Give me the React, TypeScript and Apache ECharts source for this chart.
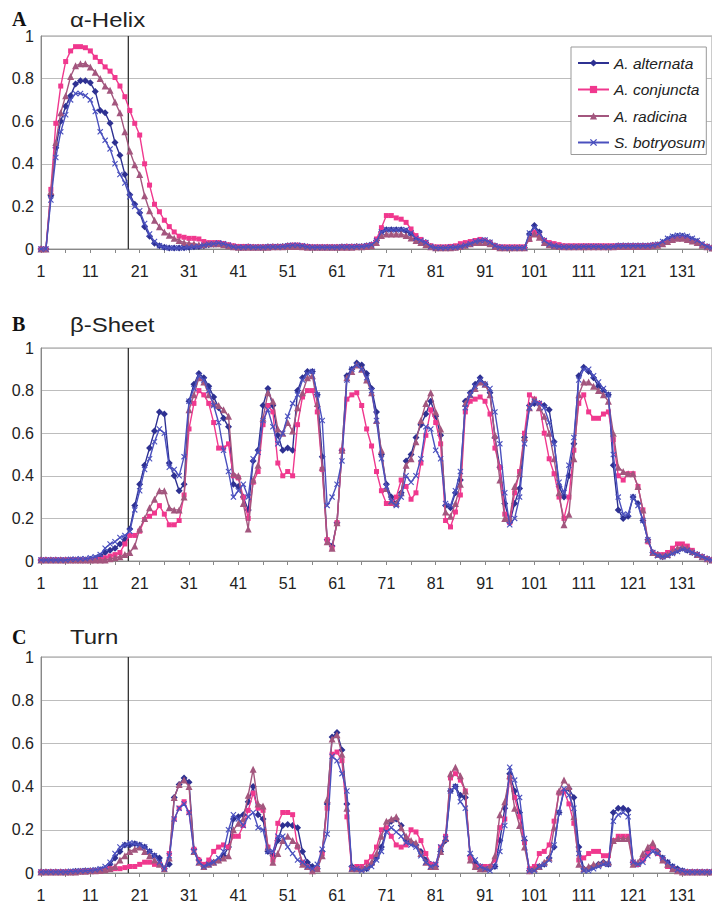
import React, { useEffect, useRef } from "react";
import * as echarts from "echarts";

// Residue positions (category axis)
const positions: string[] = Array.from({ length: 137 }, (_, i) => String(i + 1));

const seriesNames = ["A. alternata", "A. conjuncta", "A. radicina", "S. botryosum"];

// Boundary marker position (between residues 18 and 19)
const boundaryPosition = 18.7;

// ---------- Panel A: alpha-helix ----------
const helixAlt = [
  0, 0, 0.25, 0.475, 0.6, 0.67, 0.72, 0.775, 0.79, 0.79,
  0.78, 0.74, 0.65, 0.64, 0.59, 0.5, 0.44, 0.35, 0.255, 0.21,
  0.17, 0.105, 0.06, 0.027, 0.015, 0.008, 0.005, 0.005, 0.005, 0.006,
  0.008, 0.01, 0.012, 0.015, 0.02, 0.022, 0.025, 0.022, 0.015, 0.01,
  0.008, 0.008, 0.01, 0.008, 0.008, 0.008, 0.01, 0.01, 0.01, 0.012,
  0.015, 0.015, 0.015, 0.012, 0.01, 0.008, 0.008, 0.008, 0.008, 0.008,
  0.008, 0.01, 0.01, 0.01, 0.012, 0.012, 0.015, 0.02, 0.04, 0.08,
  0.09, 0.09, 0.09, 0.09, 0.085, 0.07, 0.047, 0.04, 0.03, 0.012,
  0.006, 0.006, 0.006, 0.008, 0.008, 0.012, 0.018, 0.025, 0.035, 0.04,
  0.04, 0.03, 0.015, 0.008, 0.006, 0.006, 0.006, 0.006, 0.006, 0.07,
  0.11, 0.08, 0.04, 0.025, 0.02, 0.015, 0.012, 0.01, 0.01, 0.01,
  0.012, 0.012, 0.012, 0.012, 0.01, 0.01, 0.012, 0.015, 0.015, 0.015,
  0.015, 0.015, 0.015, 0.015, 0.018, 0.02, 0.03, 0.045, 0.055, 0.06,
  0.06, 0.055, 0.045, 0.035, 0.02, 0.01, 0.005,
];
const helixCon = [
  0, 0, 0.28, 0.59, 0.765, 0.88, 0.93, 0.95, 0.95, 0.945,
  0.93, 0.9, 0.88, 0.855, 0.835, 0.805, 0.765, 0.715, 0.65, 0.59,
  0.535, 0.4, 0.3, 0.21, 0.175, 0.135, 0.105, 0.08, 0.06, 0.055,
  0.05, 0.05, 0.047, 0.035, 0.03, 0.03, 0.03, 0.025, 0.02, 0.015,
  0.012, 0.012, 0.012, 0.01, 0.01, 0.01, 0.01, 0.012, 0.012, 0.012,
  0.015, 0.018, 0.018, 0.015, 0.012, 0.01, 0.01, 0.01, 0.01, 0.01,
  0.01, 0.01, 0.012, 0.012, 0.012, 0.012, 0.015, 0.02, 0.047, 0.1,
  0.157, 0.157, 0.146, 0.14, 0.125, 0.094, 0.063, 0.045, 0.03, 0.015,
  0.01, 0.01, 0.01, 0.012, 0.015, 0.025, 0.03, 0.035, 0.04, 0.045,
  0.04, 0.03, 0.015, 0.01, 0.01, 0.01, 0.01, 0.01, 0.01, 0.045,
  0.08, 0.06, 0.04, 0.03, 0.025, 0.02, 0.015, 0.015, 0.015, 0.015,
  0.015, 0.015, 0.015, 0.015, 0.015, 0.015, 0.015, 0.015, 0.015, 0.015,
  0.015, 0.015, 0.015, 0.015, 0.018, 0.02, 0.025, 0.035, 0.045, 0.05,
  0.05, 0.045, 0.035, 0.03, 0.02, 0.012, 0.005,
];
const helixRad = [
  0, 0, 0.27, 0.5, 0.64, 0.72, 0.81, 0.86, 0.87, 0.87,
  0.855, 0.83, 0.8, 0.765, 0.745, 0.69, 0.64, 0.55, 0.46, 0.395,
  0.35, 0.25, 0.18, 0.135, 0.105, 0.08, 0.065, 0.05, 0.04, 0.03,
  0.027, 0.025, 0.02, 0.02, 0.025, 0.025, 0.025, 0.02, 0.015, 0.01,
  0.008, 0.008, 0.008, 0.008, 0.008, 0.008, 0.008, 0.01, 0.01, 0.01,
  0.012, 0.012, 0.012, 0.01, 0.008, 0.008, 0.008, 0.008, 0.008, 0.008,
  0.008, 0.008, 0.008, 0.008, 0.01, 0.01, 0.012, 0.015, 0.03, 0.063,
  0.07, 0.07, 0.07, 0.07, 0.063, 0.052, 0.04, 0.03, 0.02, 0.01,
  0.006, 0.006, 0.006, 0.006, 0.008, 0.012, 0.018, 0.025, 0.03, 0.03,
  0.03, 0.025, 0.012, 0.006, 0.006, 0.006, 0.006, 0.006, 0.006, 0.05,
  0.07, 0.055, 0.03, 0.02, 0.015, 0.012, 0.01, 0.01, 0.01, 0.01,
  0.01, 0.01, 0.01, 0.01, 0.01, 0.01, 0.01, 0.012, 0.012, 0.012,
  0.012, 0.012, 0.012, 0.012, 0.015, 0.018, 0.025, 0.035, 0.045, 0.05,
  0.05, 0.045, 0.038, 0.03, 0.018, 0.01, 0.005,
];
const helixBot = [
  0, 0, 0.23, 0.43, 0.55, 0.63, 0.7, 0.73, 0.73, 0.72,
  0.7, 0.645, 0.55, 0.51, 0.47, 0.4, 0.35, 0.31, 0.245, 0.2,
  0.18, 0.12, 0.07, 0.035, 0.015, 0.008, 0.005, 0.005, 0.005, 0.006,
  0.008, 0.01, 0.012, 0.018, 0.022, 0.025, 0.028, 0.025, 0.018, 0.01,
  0.008, 0.008, 0.01, 0.008, 0.008, 0.008, 0.01, 0.01, 0.01, 0.012,
  0.015, 0.018, 0.018, 0.015, 0.01, 0.008, 0.008, 0.008, 0.008, 0.008,
  0.008, 0.01, 0.01, 0.01, 0.012, 0.012, 0.015, 0.02, 0.04, 0.08,
  0.09, 0.09, 0.09, 0.09, 0.09, 0.075, 0.05, 0.04, 0.03, 0.012,
  0.006, 0.006, 0.006, 0.008, 0.008, 0.012, 0.018, 0.025, 0.035, 0.04,
  0.042, 0.032, 0.015, 0.008, 0.006, 0.006, 0.006, 0.006, 0.006, 0.075,
  0.1, 0.075, 0.04, 0.022, 0.015, 0.012, 0.01, 0.01, 0.01, 0.01,
  0.012, 0.012, 0.012, 0.012, 0.01, 0.01, 0.012, 0.015, 0.015, 0.015,
  0.015, 0.015, 0.015, 0.015, 0.018, 0.022, 0.035, 0.05, 0.06, 0.065,
  0.065, 0.06, 0.05, 0.04, 0.025, 0.012, 0.005,
];

// ---------- Panel B: beta-sheet ----------
const sheetAlt = [
  0.005, 0.005, 0.005, 0.005, 0.005, 0.005, 0.005, 0.005, 0.005, 0.005,
  0.008, 0.012, 0.023, 0.04, 0.05, 0.06, 0.08, 0.1, 0.15, 0.26,
  0.36, 0.45, 0.53, 0.61, 0.7, 0.69, 0.46, 0.4, 0.33, 0.36,
  0.75, 0.83, 0.88, 0.86, 0.82, 0.77, 0.72, 0.67, 0.63, 0.36,
  0.35, 0.3, 0.24, 0.47, 0.52, 0.73, 0.81, 0.73, 0.59, 0.52,
  0.53, 0.52, 0.8, 0.86, 0.89, 0.89, 0.78, 0.49, 0.1, 0.07,
  0.18, 0.52, 0.87, 0.9, 0.93, 0.92, 0.88, 0.81, 0.7, 0.5,
  0.36, 0.3, 0.27, 0.32, 0.47, 0.5, 0.58, 0.64, 0.69, 0.75,
  0.68, 0.59, 0.26, 0.25, 0.32, 0.38, 0.75, 0.79, 0.83, 0.86,
  0.83, 0.79, 0.58, 0.44, 0.27, 0.18, 0.27, 0.34, 0.58, 0.73,
  0.74, 0.74, 0.73, 0.71, 0.56, 0.35, 0.3, 0.4, 0.55, 0.87,
  0.91, 0.89, 0.86, 0.82, 0.8, 0.78, 0.45, 0.24, 0.2, 0.21,
  0.3, 0.27, 0.19, 0.1, 0.04, 0.03, 0.02, 0.03, 0.04, 0.05,
  0.06, 0.05, 0.04, 0.03, 0.02, 0.01, 0.005,
];
const sheetCon = [
  0.005, 0.005, 0.005, 0.005, 0.005, 0.005, 0.005, 0.005, 0.005, 0.005,
  0.005, 0.005, 0.008, 0.015, 0.023, 0.03, 0.04, 0.08, 0.12, 0.12,
  0.14, 0.195, 0.21, 0.225, 0.26, 0.22, 0.17, 0.17, 0.19, 0.31,
  0.62, 0.74, 0.8, 0.78, 0.74, 0.65, 0.53, 0.53, 0.55, 0.4,
  0.39, 0.3, 0.2, 0.37, 0.42, 0.64, 0.73, 0.7, 0.46, 0.4,
  0.42, 0.4, 0.64, 0.77, 0.8, 0.8, 0.7, 0.43, 0.1, 0.06,
  0.18, 0.52, 0.76, 0.78, 0.79, 0.73, 0.62, 0.54, 0.42, 0.33,
  0.27, 0.27, 0.3, 0.38, 0.35, 0.29, 0.32, 0.46, 0.59, 0.71,
  0.65, 0.55, 0.19, 0.16, 0.23, 0.31, 0.7, 0.75, 0.76, 0.77,
  0.75, 0.69, 0.53, 0.44, 0.22, 0.18, 0.32, 0.42, 0.6, 0.78,
  0.76, 0.74, 0.6, 0.48, 0.41, 0.3, 0.2, 0.3, 0.52, 0.74,
  0.78, 0.7, 0.67, 0.67, 0.69, 0.7, 0.57, 0.4, 0.38, 0.41,
  0.41, 0.35, 0.24, 0.09, 0.04, 0.03, 0.03, 0.04, 0.06, 0.08,
  0.08, 0.07, 0.05, 0.03, 0.02, 0.01, 0.005,
];
const sheetRad = [
  0.005, 0.005, 0.005, 0.005, 0.005, 0.005, 0.005, 0.005, 0.005, 0.005,
  0.005, 0.005, 0.005, 0.005, 0.01, 0.015, 0.02, 0.03, 0.04, 0.07,
  0.15, 0.2, 0.25, 0.29, 0.33, 0.33, 0.25, 0.24, 0.24, 0.3,
  0.71, 0.78, 0.86, 0.84, 0.78, 0.74, 0.73, 0.71, 0.68, 0.41,
  0.4, 0.27, 0.15, 0.38, 0.45, 0.67, 0.79, 0.75, 0.62, 0.6,
  0.65, 0.61, 0.72, 0.79, 0.86, 0.87, 0.74, 0.44, 0.09, 0.06,
  0.18, 0.52, 0.86, 0.89, 0.92, 0.9, 0.85, 0.79, 0.66, 0.52,
  0.34, 0.28, 0.27, 0.32, 0.45, 0.48, 0.56, 0.66, 0.74, 0.79,
  0.7, 0.62, 0.23, 0.21, 0.27, 0.36, 0.74, 0.78, 0.81, 0.84,
  0.83, 0.78, 0.59, 0.38, 0.2, 0.2, 0.35, 0.41, 0.58, 0.72,
  0.76, 0.72, 0.68, 0.6, 0.48, 0.32, 0.17, 0.22, 0.48, 0.78,
  0.84, 0.84, 0.82, 0.8, 0.78, 0.75, 0.6, 0.44, 0.42, 0.41,
  0.41, 0.35, 0.24, 0.1, 0.04, 0.03, 0.025, 0.03, 0.045, 0.06,
  0.065, 0.06, 0.045, 0.03, 0.02, 0.01, 0.005,
];
const sheetBot = [
  0.005, 0.005, 0.005, 0.005, 0.005, 0.005, 0.008, 0.008, 0.01, 0.01,
  0.015, 0.02, 0.03, 0.06, 0.08, 0.09, 0.11, 0.12, 0.14, 0.24,
  0.33, 0.43, 0.48, 0.56, 0.62, 0.6, 0.44, 0.43, 0.4, 0.49,
  0.75, 0.81, 0.87, 0.85, 0.8, 0.73, 0.65, 0.52, 0.42, 0.3,
  0.33, 0.36, 0.3, 0.48, 0.51, 0.66, 0.71, 0.63, 0.55, 0.6,
  0.68, 0.74, 0.78, 0.85, 0.88, 0.89, 0.78, 0.66, 0.26, 0.3,
  0.36, 0.47, 0.85, 0.9, 0.92, 0.9, 0.86, 0.8, 0.66, 0.48,
  0.35, 0.28, 0.26, 0.3, 0.4, 0.37, 0.4, 0.48, 0.63, 0.62,
  0.52, 0.48, 0.27, 0.26, 0.33, 0.42, 0.72, 0.78, 0.82, 0.85,
  0.83, 0.81, 0.7, 0.55, 0.32, 0.17, 0.2, 0.3, 0.55, 0.72,
  0.75, 0.74, 0.72, 0.65, 0.55, 0.37, 0.32, 0.45, 0.58, 0.85,
  0.9, 0.9, 0.87, 0.84, 0.81, 0.78, 0.5, 0.3, 0.22, 0.22,
  0.3, 0.26, 0.19, 0.1, 0.04, 0.025, 0.02, 0.025, 0.035, 0.045,
  0.055, 0.05, 0.04, 0.03, 0.02, 0.01, 0.005,
];

// ---------- Panel C: turn ----------
const turnAlt = [
  0.005, 0.005, 0.005, 0.005, 0.005, 0.005, 0.005, 0.008, 0.008, 0.01,
  0.01, 0.012, 0.015, 0.02, 0.04, 0.07, 0.1, 0.13, 0.13, 0.135,
  0.13, 0.12, 0.1, 0.08, 0.07, 0.02, 0.04, 0.35, 0.41, 0.44,
  0.42, 0.11, 0.06, 0.03, 0.04, 0.05, 0.06, 0.08, 0.12, 0.25,
  0.26, 0.27, 0.33, 0.4, 0.27, 0.25, 0.1, 0.08, 0.15, 0.22,
  0.225, 0.22, 0.21, 0.1, 0.05, 0.03, 0.02, 0.1, 0.32, 0.63,
  0.65, 0.57, 0.32, 0.03, 0.02, 0.02, 0.02, 0.04, 0.07, 0.12,
  0.2, 0.24, 0.25, 0.22, 0.15, 0.14, 0.13, 0.1, 0.06, 0.04,
  0.03, 0.1, 0.15, 0.38, 0.4, 0.36, 0.35, 0.08, 0.05, 0.03,
  0.02, 0.02, 0.03, 0.15, 0.3, 0.46, 0.38, 0.28, 0.15, 0.01,
  0.02, 0.03, 0.04, 0.07, 0.12, 0.28, 0.38, 0.39, 0.35, 0.12,
  0.02, 0.02, 0.03, 0.04, 0.05, 0.04, 0.28, 0.3, 0.3, 0.29,
  0.05, 0.04, 0.06, 0.1, 0.12, 0.1, 0.07, 0.05, 0.03, 0.02,
  0.01, 0.005, 0.005, 0.005, 0.005, 0.005, 0.005,
];
const turnCon = [
  0.005, 0.005, 0.005, 0.005, 0.005, 0.005, 0.005, 0.005, 0.008, 0.008,
  0.01, 0.01, 0.012, 0.015, 0.02, 0.02, 0.02, 0.025, 0.03, 0.03,
  0.04, 0.05, 0.05, 0.04, 0.04, 0.02, 0.09, 0.25, 0.3, 0.33,
  0.28, 0.11, 0.06, 0.04, 0.06, 0.1, 0.12, 0.13, 0.12, 0.17,
  0.17, 0.22, 0.29, 0.37, 0.3, 0.29, 0.12, 0.06, 0.23, 0.28,
  0.28, 0.27, 0.12, 0.05, 0.03, 0.01, 0.02, 0.09, 0.3, 0.55,
  0.56, 0.52, 0.26, 0.02, 0.03, 0.03, 0.05, 0.075, 0.12, 0.2,
  0.21, 0.17, 0.13, 0.12, 0.13, 0.2, 0.19, 0.15, 0.09, 0.04,
  0.04, 0.12, 0.17, 0.44, 0.46, 0.43, 0.38, 0.07, 0.03, 0.03,
  0.03, 0.03, 0.06, 0.21, 0.25, 0.44, 0.35, 0.26, 0.14, 0.02,
  0.03, 0.09, 0.1, 0.13, 0.24, 0.37, 0.38, 0.32, 0.23, 0.06,
  0.07, 0.09, 0.1, 0.1, 0.08, 0.08, 0.15, 0.17, 0.17, 0.17,
  0.05, 0.04, 0.06, 0.09, 0.12, 0.09, 0.06, 0.03, 0.02, 0.01,
  0.005, 0.005, 0.005, 0.005, 0.005, 0.005, 0.005,
];
const turnRad = [
  0.005, 0.005, 0.005, 0.005, 0.005, 0.005, 0.005, 0.005, 0.008, 0.008,
  0.01, 0.01, 0.012, 0.015, 0.02, 0.03, 0.06, 0.08, 0.1, 0.11,
  0.12, 0.1, 0.08, 0.06, 0.04, 0.02, 0.07, 0.35, 0.41, 0.43,
  0.4, 0.1, 0.05, 0.03, 0.04, 0.05, 0.06, 0.07, 0.08, 0.2,
  0.23, 0.25, 0.36, 0.48, 0.32, 0.31, 0.12, 0.05, 0.09, 0.15,
  0.17, 0.15, 0.13, 0.04, 0.03, 0.01, 0.02, 0.08, 0.34, 0.62,
  0.64, 0.55, 0.3, 0.02, 0.02, 0.02, 0.03, 0.05, 0.09, 0.17,
  0.24, 0.25, 0.26, 0.21, 0.17, 0.15, 0.14, 0.09, 0.05, 0.03,
  0.03, 0.1, 0.16, 0.46, 0.49, 0.45, 0.38, 0.06, 0.03, 0.02,
  0.02, 0.03, 0.08, 0.27, 0.33, 0.45, 0.3, 0.22, 0.12, 0.01,
  0.02, 0.03, 0.05, 0.07, 0.21, 0.38, 0.43, 0.4, 0.26, 0.04,
  0.02, 0.03, 0.04, 0.04, 0.05, 0.05, 0.15, 0.16, 0.16, 0.16,
  0.04, 0.05, 0.09, 0.12, 0.14, 0.1, 0.06, 0.04, 0.02, 0.01,
  0.005, 0.005, 0.005, 0.005, 0.005, 0.005, 0.005,
];
const turnBot = [
  0.005, 0.005, 0.005, 0.005, 0.005, 0.005, 0.008, 0.008, 0.01, 0.01,
  0.012, 0.015, 0.02, 0.03, 0.05, 0.09, 0.12, 0.13, 0.14, 0.135,
  0.13, 0.12, 0.1, 0.08, 0.05, 0.02, 0.08, 0.25, 0.3, 0.32,
  0.28, 0.1, 0.05, 0.03, 0.04, 0.05, 0.07, 0.1, 0.2, 0.27,
  0.25, 0.22, 0.26, 0.28, 0.21, 0.2, 0.1, 0.1, 0.17, 0.17,
  0.12, 0.09, 0.06, 0.05, 0.03, 0.02, 0.04, 0.11, 0.18, 0.54,
  0.52, 0.46, 0.38, 0.02, 0.02, 0.01, 0.02, 0.03, 0.06, 0.1,
  0.19, 0.21, 0.19, 0.17, 0.14, 0.13, 0.12, 0.08, 0.05, 0.03,
  0.04, 0.12, 0.16, 0.38, 0.4, 0.33, 0.3, 0.09, 0.06, 0.03,
  0.02, 0.01, 0.03, 0.1, 0.22, 0.49, 0.43, 0.35, 0.16, 0.01,
  0.01, 0.03, 0.04, 0.06, 0.13, 0.28, 0.39, 0.36, 0.3, 0.09,
  0.01, 0.01, 0.02, 0.03, 0.04, 0.04, 0.24, 0.27, 0.28, 0.26,
  0.05, 0.04, 0.05, 0.08, 0.1, 0.09, 0.07, 0.05, 0.03, 0.015,
  0.01, 0.005, 0.005, 0.005, 0.005, 0.005, 0.005,
];

const X_SYMBOL =
  "path://M0,1.3L1.3,0L5,3.7L8.7,0L10,1.3L6.3,5L10,8.7L8.7,10L5,6.3L1.3,10L0,8.7L3.7,5Z";

const styles = [
  { color: "#2E3192", symbol: "diamond", size: 7 },
  { color: "#F0388E", symbol: "rect", size: 5 },
  { color: "#A3567E", symbol: "triangle", size: 7 },
  { color: "#4A50BE", symbol: X_SYMBOL, size: 6 },
];

const panels = [
  { letter: "A", title: "\u03B1-Helix", top: 36, height: 213, letterY: 19, titleY: 20, data: [helixAlt, helixCon, helixRad, helixBot] },
  { letter: "B", title: "\u03B2-Sheet", top: 348, height: 213, letterY: 324, titleY: 325, data: [sheetAlt, sheetCon, sheetRad, sheetBot] },
  { letter: "C", title: "Turn", top: 657, height: 216, letterY: 637, titleY: 637.5, data: [turnAlt, turnCon, turnRad, turnBot] },
];

const SANS = '"Liberation Sans", Arial, Helvetica, sans-serif';

export default function App() {
  const ref = useRef<HTMLDivElement>(null);

  useEffect(() => {
    if (!ref.current) return;
    const chart = echarts.init(ref.current, undefined, { renderer: "svg" });

    const grid = panels.map((p) => ({
      left: 41,
      width: 673,
      top: p.top,
      height: p.height,
      show: true,
      borderColor: "#999",
      borderWidth: 1,
      backgroundColor: "transparent",
    }));

    const xAxis: any[] = [];
    panels.forEach((_, g) => {
      xAxis.push({
        type: "category",
        gridIndex: g,
        data: positions,
        boundaryGap: false,
        axisLine: { show: true, lineStyle: { color: "#888", width: 1 } },
        axisTick: { show: true, interval: 4, length: 4, lineStyle: { color: "#888" } },
        axisLabel: { interval: 9, margin: 14, color: "#222", fontSize: 16, fontFamily: SANS },
        splitLine: { show: false },
      });
    });
    panels.forEach((_, g) => {
      xAxis.push({ type: "value", gridIndex: g, min: 1, max: 137, show: false });
    });

    const yAxis = panels.map((_, g) => ({
      type: "value",
      gridIndex: g,
      min: 0,
      max: 1,
      interval: 0.2,
      axisLine: { show: true, lineStyle: { color: "#888", width: 1 } },
      axisTick: { show: false },
      axisLabel: { margin: 7, color: "#222", fontSize: 16, fontFamily: SANS },
      splitLine: { show: true, lineStyle: { color: "#bdbdbd", width: 1 } },
    }));

    const series: any[] = [];
    panels.forEach((p, g) => {
      series.push({
        type: "line",
        name: "boundary",
        xAxisIndex: 3 + g,
        yAxisIndex: g,
        data: [
          [boundaryPosition, 0],
          [boundaryPosition, 1],
        ],
        symbol: "none",
        silent: true,
        z: 1,
        lineStyle: { color: "#333", width: 1.3 },
      });
      p.data.forEach((arr, s) => {
        const st = styles[s];
        series.push({
          type: "line",
          name: seriesNames[s],
          xAxisIndex: g,
          yAxisIndex: g,
          data: arr,
          symbol: st.symbol,
          symbolSize: st.size,
          showSymbol: true,
          showAllSymbol: true,
          z: 2 + s,
          lineStyle: { color: st.color, width: 1.4 },
          itemStyle: { color: st.color },
          emphasis: { disabled: true },
        });
      });
    });

    const graphic: any[] = [];
    panels.forEach((p) => {
      graphic.push({
        type: "text",
        x: 12,
        y: p.letterY,
        style: {
          text: p.letter,
          font: 'bold 20px "Liberation Serif", "Times New Roman", serif',
          fill: "#111",
          verticalAlign: "middle",
        },
      });
      graphic.push({
        type: "text",
        x: 70,
        y: p.titleY,
        scaleX: 1.2,
        style: {
          text: p.title,
          font: "20px " + SANS,
          fill: "#222",
          verticalAlign: "middle",
        },
      });
    });

    chart.setOption({
      animation: false,
      backgroundColor: "#fff",
      grid,
      xAxis,
      yAxis,
      series,
      graphic,
      legend: {
        data: seriesNames,
        orient: "vertical",
        left: 571,
        top: 47,
        itemWidth: 31,
        itemHeight: 9,
        itemGap: 10.5,
        padding: [8, 1, 4, 6],
        backgroundColor: "#fff",
        borderColor: "#999",
        borderWidth: 1,
        selectedMode: false,
        textStyle: { fontSize: 15.5, fontStyle: "italic", color: "#222", fontFamily: SANS },
      },
    });

    return () => chart.dispose();
  }, []);

  return (
    <div
      ref={ref}
      style={{ position: "fixed", left: 0, top: 0, width: 712, height: 903, background: "#fff" }}
    />
  );
}
